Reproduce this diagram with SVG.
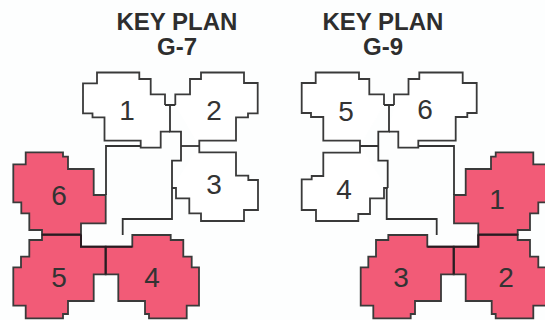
<svg xmlns="http://www.w3.org/2000/svg" width="545" height="320" viewBox="0 0 545 320">
<style>
.w{fill:#fff;stroke:#3a3a3a;stroke-width:1.8}
.p{fill:#f25b77;stroke:#3a3a3a;stroke-width:1.8}
.c{fill:none;stroke:#333;stroke-width:1.8}
.j{fill:none;stroke:#2a1a20;stroke-width:2}
text{font-family:"Liberation Sans",Arial,sans-serif;text-anchor:middle;fill:#333}
.t{font-size:24px;font-weight:700;fill:#2e2e2e}
.n{font-size:28px}
</style>
<rect width="545" height="320" fill="#fdfefe"/>
<g id="title-g7"><text class="t" x="177" y="30">KEY PLAN</text><text class="t" x="177" y="55">G-7</text></g>
<g id="title-g9"><text class="t" x="383" y="30">KEY PLAN</text><text class="t" x="383" y="55">G-9</text></g>

<g id="g7-unit1"><path class="w" d="M165,105V94.3H150.7V79H139.3V72.5H97V83.3H83V113.3H92.5V117.3H104.5V140.7H140.7V147.7H160.7V131.7H170"/><text class="n" x="127" y="120">1</text></g>
<g id="g7-unit2"><path class="w" d="M175.3,105V94.3H190V79H201V72.5H244V83H257.7V113.3H248V117.3H236V140.7H199.3V146"/><text class="n" x="214" y="120">2</text></g>
<g id="g7-unit3"><path class="w" d="M199.3,146V152.3H236V175.7H248.3V180H258V210H244V221H201V213.3H189.3V198.3H176V188H172"/><text class="n" x="214" y="194">3</text></g>
<g id="g7-unit6"><path class="p" d="M105.7,195H93.7V169H68V156.7H63V152.3H25.7V164.3H13.3V202.3H21.3V213.3H29.3V230H42V234.7H81V223.3H105.7Z"/><text class="n" x="59" y="205">6</text></g>
<g id="g7-unit5"><path class="p" d="M42,234.7V240H29.3V256.7H21V267.3H13.3V305.7H25.7V318.3H63V314H68V301H93.7V274.3H105.7V246.7H81V234.7Z"/><text class="n" x="59" y="287">5</text></g>
<g id="g7-unit4"><path class="p" d="M105.7,246.7H132.3V235H170.7V240H183.3V256.7H191.7V267.3H199V305.7H186.7V318.3H149V314H145V301H118.3V274.3H105.7Z"/><text class="n" x="152" y="287">4</text></g>

<g id="g9-unit5"><path class="w" d="M384,105V94.3H369.3V79H359V72.5H315.7V83H301.7V113H311V117H323.3V140.7H360V146"/><text class="n" x="346" y="121">5</text></g>
<g id="g9-unit6"><path class="w" d="M394,105V94.3H408.5V79H419.3V72.5H462.7V83H476.7V113H467.3V117H455.7V140.7H418.3V147.7H398.3V131.7H389"/><text class="n" x="425" y="119">6</text></g>
<g id="g9-unit4"><path class="w" d="M360,146V152.7H323.3V176H311.7V179.3H301.7V210H316V221H358.3V214H370V198.3H384V188H387.7"/><text class="n" x="344" y="199">4</text></g>
<g id="g9-unit1"><path class="p" d="M454,195H465.7V169H491V156.7H495.7V152.3H533.3V164.3H546V202.3H538.3V213.3H530V230H517.7V234.7H478.3V223.3H454Z"/><text class="n" x="497" y="209">1</text></g>
<g id="g9-unit2"><path class="p" d="M517.7,234.7V240H530V256.7H538.3V267.3H546V305.7H533.3V318.3H495.7V314H491.7V301H465.7V274.3H453.7V246.7H478.3V234.7Z"/><text class="n" x="506" y="287">2</text></g>
<g id="g9-unit3"><path class="p" d="M453.7,246.7H427.3V235H388.3V240H376V256.7H368.3V267.3H360.7V305.7H373.3V318.3H410.7V314H415V301H441V274.3H453.7Z"/><text class="n" x="401" y="287">3</text></g>

<g id="connectors">
<path class="c" d="M106,195V146H140.7M165,105H175.3M170,105V131.7H181V160.7H172V219H122.7V235"/>
<path class="c" d="M181,146H199.3"/>
<path class="c" d="M384,105H394M389,105V131.7H378.3V160.7H387.7V188M378.3,146H360"/>
<path class="c" d="M418.3,146H454V195M386.7,188V219H436.7V235"/>
<path class="j" d="M42,234.7H81M105.7,246.7V274.3M81,234.7V246.7H132.3"/>
<path class="j" d="M517.7,234.7H478.3M453.7,246.7V274.3M478.3,234.7V246.7H427.3"/>
</g>
</svg>
